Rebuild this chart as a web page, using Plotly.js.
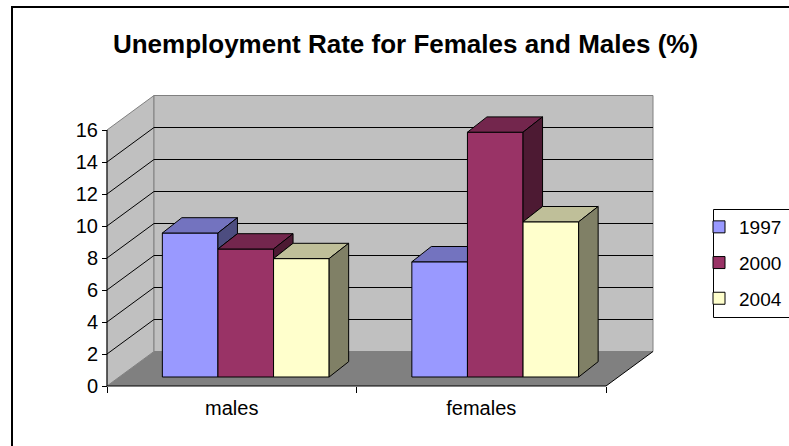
<!DOCTYPE html>
<html><head><meta charset="utf-8">
<script src="https://cdn.plot.ly/plotly-3.0.1.min.js"></script>
<style>html,body{margin:0;padding:0;background:#fff}#chart{width:789px;height:446px}</style>
</head><body><div id="chart"></div>
<script>
// ---- data ----
const categories = ['males', 'females'];
const seriesNames = ['1997', '2000', '2004'];
const values1997 = [9.0, 7.2];
const values2000 = [8.0, 15.3];
const values2004 = [7.4, 9.7];
const valueTicks = [0, 2, 4, 6, 8, 10, 12, 14, 16];
const chartTitle = 'Unemployment Rate for Females and Males (%)';

// ---- styles ----
const seriesValues = [values1997, values2000, values2004];
const frontColors = ['#9999FF', '#993366', '#FFFFCC'];
const topColors   = ['#7373BF', '#73264D', '#BFBF99'];
const sideColors  = ['#4D4D80', '#4D1A33', '#808066'];
const FONT = 'Liberation Sans, Arial, sans-serif';

// ---- geometry (pixels -> axis units) ----
const W = 789, H = 446;
const FX = 107, FY = 386;          // front-left corner of the floor
const PAD = 3;
const M = {l: FX - PAD, r: 133, t: 92, b: H - (FY + PAD), autoexpand: false};
const pw = W - M.l - M.r, ph = H - M.t - M.b;
const pxPerCat = 249.5, pxPerVal = 16;
const X = p => p / pxPerCat, Y = p => p / pxPerVal;
const xr = [-0.5 - X(PAD), -0.5 - X(PAD) + X(pw)];
const yr = [-Y(PAD), -Y(PAD) + Y(ph)];
const wall = {dx: X(47), dy: Y(34.5)};
const face = {dx: X(14), dy: Y(9)};
const depth = {dx: X(19.5), dy: Y(15.3)};
const barW = X(55.6);
const vMax = valueTicks[valueTicks.length - 1];
const x0 = -0.5, x1 = categories.length - 0.5;
const px2paperX = p => (p - M.l) / pw, px2paperY = p => (H - M.b - p) / ph;

// ---- walls / floor / grid as background shapes ----
const shapes = [];
const L = (xa, ya, xb, yb, color, width) => ({type: 'line', xref: 'x', yref: 'y', layer: 'below',
  x0: xa, y0: ya, x1: xb, y1: yb, line: {color: color, width: width || 1}});
shapes.push({type: 'path', xref: 'x', yref: 'y', layer: 'below',
  path: `M${x0},0 L${x0},${vMax} L${x0 + wall.dx},${vMax + wall.dy} L${x0 + wall.dx},${wall.dy} Z`,
  fillcolor: '#C0C0C0', line: {color: '#808080', width: 1}});
shapes.push({type: 'rect', xref: 'x', yref: 'y', layer: 'below',
  x0: x0 + wall.dx, x1: x1 + wall.dx, y0: wall.dy, y1: vMax + wall.dy,
  fillcolor: '#C0C0C0', line: {color: '#808080', width: 1}});
shapes.push({type: 'path', xref: 'x', yref: 'y', layer: 'below',
  path: `M${x0},0 L${x1},0 L${x1 + wall.dx},${wall.dy} L${x0 + wall.dx},${wall.dy} Z`,
  fillcolor: '#808080', line: {width: 0}});
valueTicks.forEach(v => {
  if (v > 0 && v < vMax) {
    shapes.push(L(x0 + wall.dx, v + wall.dy, x1 + wall.dx, v + wall.dy, '#000'));
    shapes.push(L(x0, v, x0 + wall.dx, v + wall.dy, '#000'));
  }
});
shapes.push(L(x0, 0, x1, 0, '#000'));
shapes.push(L(x1, 0, x1 + wall.dx, wall.dy, '#000'));
shapes.push(L(x0, 0, x0, vMax, '#000'));
// outer chart frame
shapes.push({type: 'rect', xref: 'paper', yref: 'paper',
  x0: px2paperX(12), x1: px2paperX(W + 20), y0: px2paperY(H + 20), y1: px2paperY(7),
  fillcolor: 'rgba(0,0,0,0)', line: {color: '#000', width: 2}});
// legend frame
shapes.push({type: 'rect', xref: 'paper', yref: 'paper',
  x0: px2paperX(713.5), x1: px2paperX(W + 20), y0: px2paperY(317.5), y1: px2paperY(209.5),
  fillcolor: 'rgba(0,0,0,0)', line: {color: '#000', width: 1}});

// ---- traces ----
const traces = [];
const groupLeft = -1.5 * barW;
seriesValues.forEach((vals, k) => {
  traces.push({
    type: 'bar', name: seriesNames[k], legendgroup: seriesNames[k],
    x: categories.map((c, i) => i), y: vals, base: vals.map(() => face.dy),
    offset: groupLeft + k * barW + face.dx, width: barW,
    marker: {color: frontColors[k], line: {color: '#000', width: 1}},
    hoverinfo: 'skip'
  });
});
const poly = (xs, ys, color) => ({type: 'scatter', mode: 'lines', x: xs, y: ys, fill: 'toself',
  fillcolor: color, line: {color: '#000', width: 1}, showlegend: false, hoverinfo: 'skip'});
categories.forEach((c, i) => {
  seriesValues.forEach((vals, k) => {
    const h = vals[i];
    const next = k < seriesValues.length - 1 ? seriesValues[k + 1][i] : null;
    const xa = i + groupLeft + k * barW + face.dx, xb = xa + barW;
    const T = face.dy + h;
    if (next !== null && next > h) {
      traces.push(poly([xa, xb, xb, xa + depth.dx, xa], [T, T, T + depth.dy, T + depth.dy, T], topColors[k]));
    } else {
      traces.push(poly([xa, xb, xb + depth.dx, xa + depth.dx, xa], [T, T, T + depth.dy, T + depth.dy, T], topColors[k]));
      const B = face.dy + (next === null ? 0 : next);
      traces.push(poly([xb, xb, xb + depth.dx, xb + depth.dx, xb], [B, T, T + depth.dy, B + depth.dy, B], sideColors[k]));
    }
  });
});

const layout = {
  width: W, height: H, margin: M, paper_bgcolor: '#fff', plot_bgcolor: 'rgba(0,0,0,0)',
  barmode: 'overlay', showlegend: true,
  font: {family: FONT, color: '#000', size: 20},
  title: {text: '<b>' + chartTitle + '</b>', font: {family: FONT, size: 26, color: '#000'},
    xref: 'container', yref: 'container', x: 405.5 / W, xanchor: 'center', y: 1 - 43.6 / H, yanchor: 'middle'},
  xaxis: {range: xr, anchor: 'free', position: PAD / ph, showgrid: false, zeroline: false, showline: false,
    tickmode: 'array', tickvals: categories.map((c, i) => i), ticktext: categories, ticks: '',
    tickfont: {family: FONT, size: 20, color: '#000'}, ticklabelstandoff: 8,
    minor: {tickmode: 'array', tickvals: [-0.5, 0.5, 1.5], ticks: 'outside', ticklen: 6, tickcolor: '#000', tickwidth: 1, showgrid: false}},
  yaxis: {range: yr, anchor: 'free', position: PAD / pw, showgrid: false, zeroline: false, showline: false,
    tickmode: 'array', tickvals: valueTicks, ticks: 'outside', ticklen: 5, tickcolor: '#000', tickwidth: 1,
    tickfont: {family: FONT, size: 20, color: '#000'}},
  legend: {x: px2paperX(699), y: px2paperY(208), xanchor: 'left', yanchor: 'top',
    bgcolor: 'rgba(0,0,0,0)', borderwidth: 0, traceorder: 'grouped', tracegroupgap: 8,
    font: {family: FONT, size: 19, color: '#000'}},
  shapes: shapes
};
Plotly.newPlot('chart', traces, layout, {displayModeBar: false, staticPlot: true});
</script></body></html>
